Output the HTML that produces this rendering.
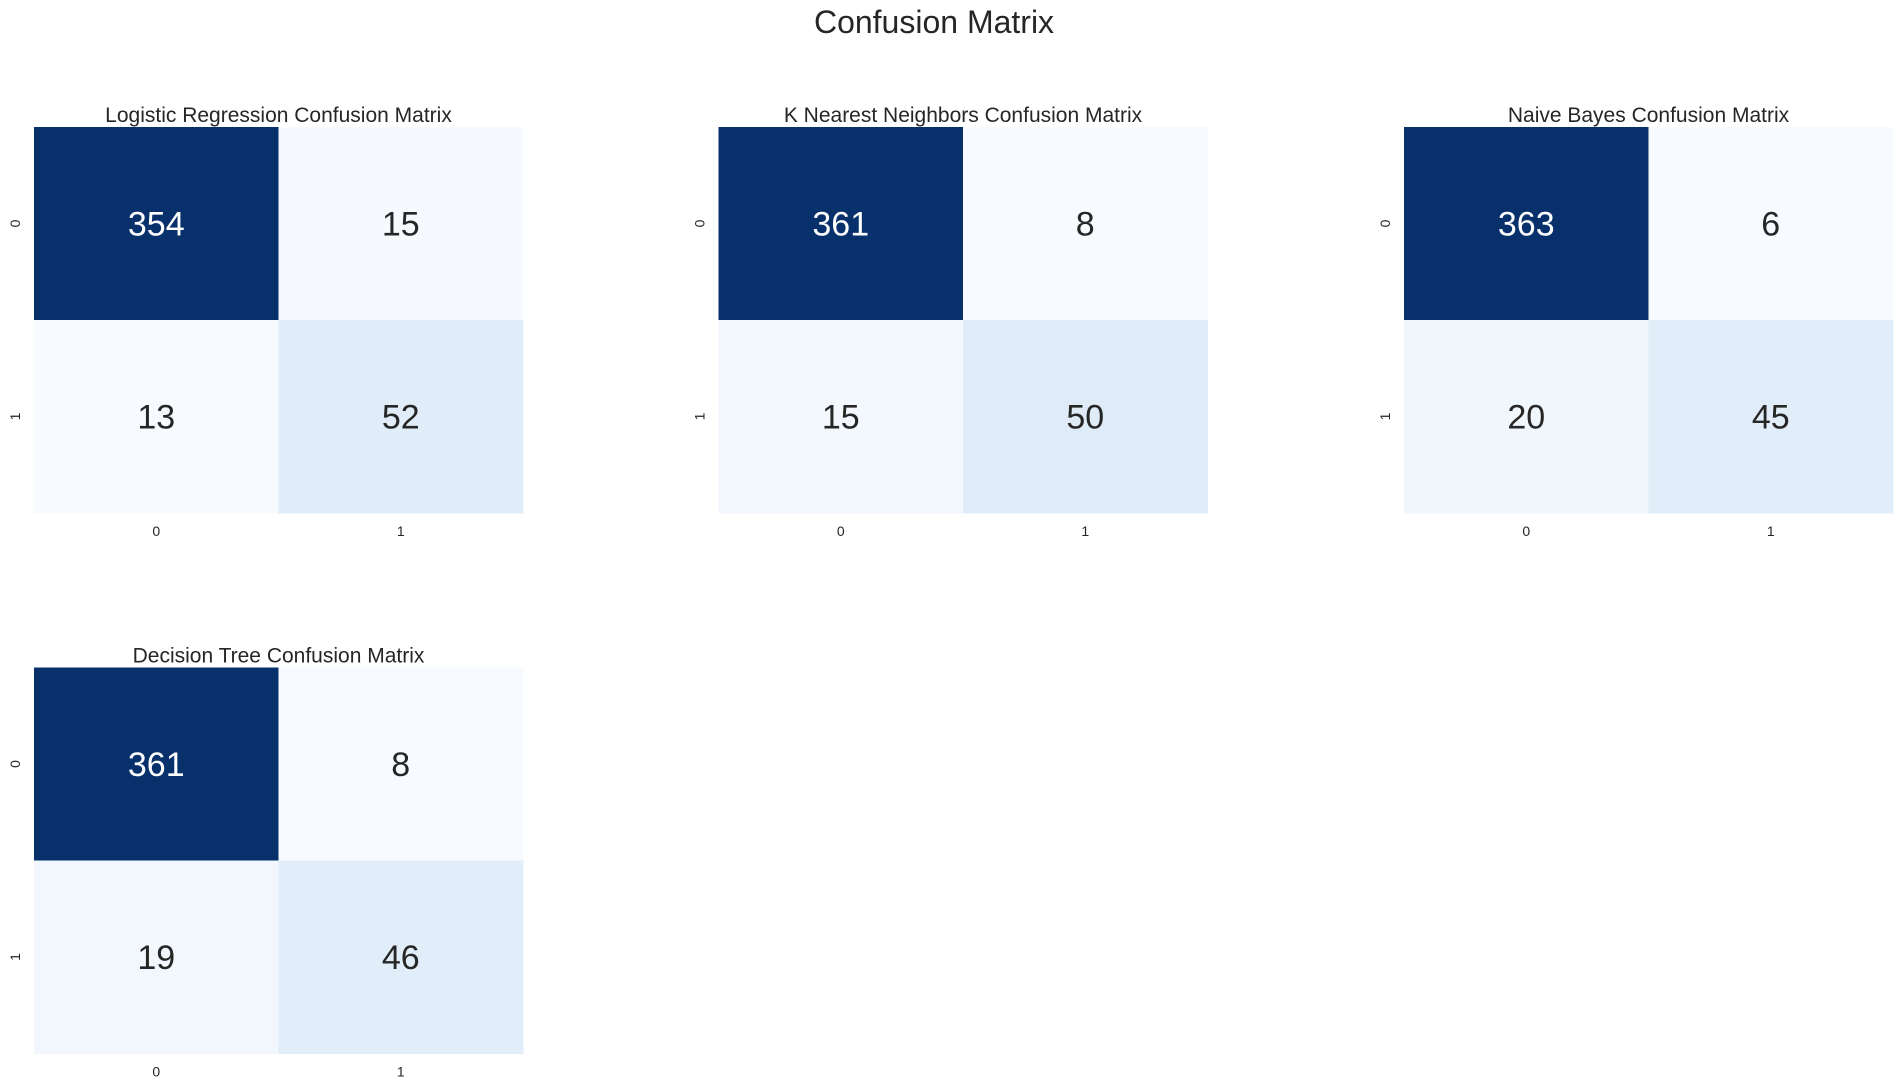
<!DOCTYPE html>
<html><head><meta charset="utf-8"><style>
html,body{margin:0;padding:0;background:#fff;}
svg{display:block;font-family:"Liberation Sans",Arial,sans-serif;}
</style></head><body>
<svg id="fig" width="1903" height="1087" viewBox="0 0 1903 1087">
<text x="934" y="33" text-anchor="middle" font-size="32" fill="#262626">Confusion Matrix</text>
</svg>
<script>
const modelNames = ["Logistic Regression","K Nearest Neighbors","Naive Bayes","Decision Tree"];
const lrValues = [[354,15],[13,52]];
const knnValues = [[361,8],[15,50]];
const nbValues = [[363,6],[20,45]];
const dtValues = [[361,8],[19,46]];
const classLabels = ["0","1"];
const allValues = [lrValues, knnValues, nbValues, dtValues];

const stops = ["#f7fbff","#deebf7","#c6dbef","#9ecae1","#6baed6","#4292c6","#2171b5","#08519c","#08306b"];
function hex(c){return [1,3,5].map(i=>parseInt(c.substr(i,2),16));}
function blues(t){
  t=Math.max(0,Math.min(1,t));
  const p=t*(stops.length-1), i=Math.min(Math.floor(p),stops.length-2), f=p-i;
  const a=hex(stops[i]), b=hex(stops[i+1]);
  return "rgb("+a.map((v,k)=>Math.round(v+(b[k]-v)*f)).join(",")+")";
}
const svg=document.getElementById('fig');
const NS="http://www.w3.org/2000/svg";
function mk(tag,attrs,parent){const e=document.createElementNS(NS,tag);for(const k in attrs)e.setAttribute(k,attrs[k]);parent.appendChild(e);return e;}
const panelX=[34,718.5,1404,34], panelY=[127,127,127,667.5];
const W=489, H=386;
allValues.forEach((m,p)=>{
  const g=mk('g',{},svg);
  
  
  const x0=panelX[p], y0=panelY[p];
  const flat=m.flat(), mn=Math.min(...flat), mx=Math.max(...flat);
  const cw=W/classLabels.length, ch=H/classLabels.length;
  const t=mk('text',{x:x0+W/2,y:y0-5,'text-anchor':'middle','font-size':'21',fill:'#262626'},g);
  t.textContent=modelNames[p]+" Confusion Matrix";
  
  
  m.forEach((row,r)=>row.forEach((v,c)=>{
    const tv=(v-mn)/(mx-mn);
    const rc=mk('rect',{x:x0+c*cw,y:y0+r*ch,width:cw+0.5,height:ch+0.5,fill:blues(tv)},g);
    
    
    const tx=mk('text',{x:x0+(c+0.5)*cw,y:y0+(r+0.5)*ch+12,'text-anchor':'middle','font-size':'34',fill:tv>0.5?'#ffffff':'#262626'},g);
    tx.textContent=v;
    
    
  }));
  classLabels.forEach((l,i)=>{
    const xt=mk('text',{x:x0+(i+0.5)*cw,y:y0+H+23,'text-anchor':'middle','font-size':'14',fill:'#262626'},g);
    xt.textContent=l;
    
    
    const yy=y0+(i+0.5)*ch, xx=x0-14;
    const yt=mk('text',{x:xx,y:yy,'text-anchor':'middle','font-size':'14',fill:'#262626',transform:'rotate(-90 '+xx+' '+yy+')'},g);
    yt.textContent=l;
    
    
  });
});
</script>
</body></html>
